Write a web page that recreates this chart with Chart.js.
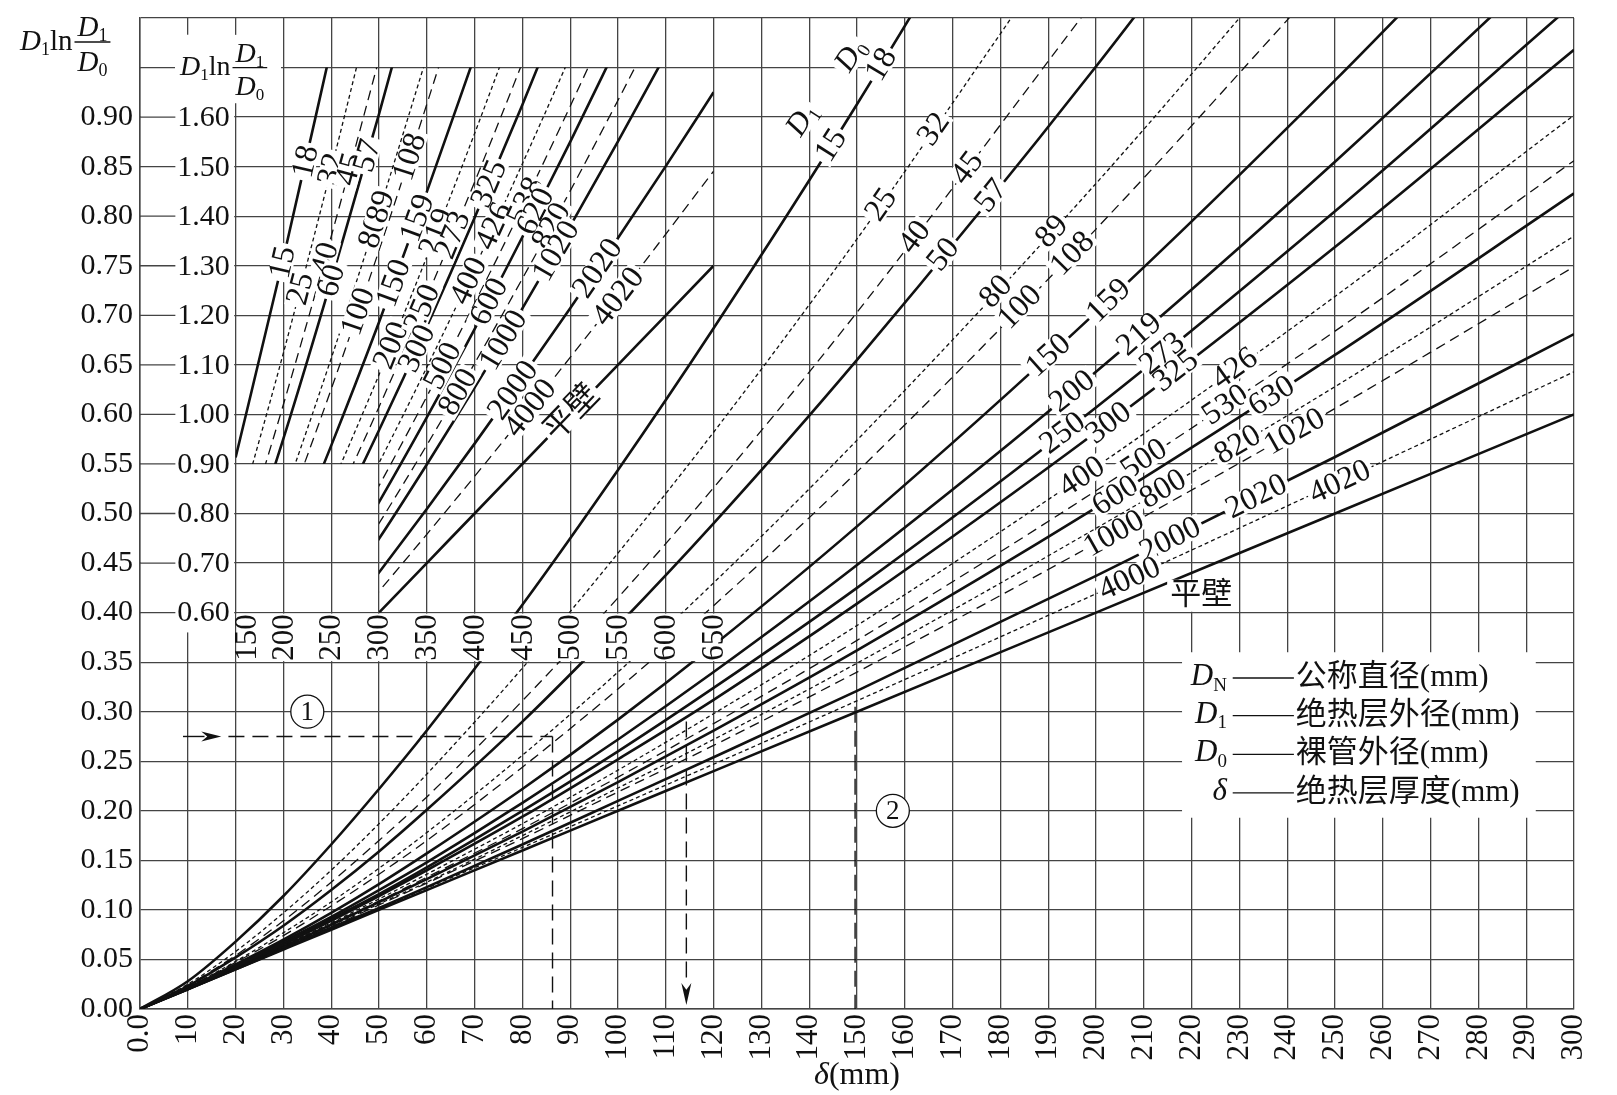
<!DOCTYPE html>
<html>
<head>
<meta charset="utf-8">
<script src="https://cdn.jsdelivr.net/npm/chart.js@4.4.1/dist/chart.umd.min.js"></script>
<style>
  html, body { margin: 0; padding: 0; background: #fff; }
  #wrap { position: relative; width: 1617px; height: 1095px; }
</style>
</head>
<body>
<div id="wrap"><canvas id="nomo"></canvas></div>
<script>
// insulation thickness δ (mm) where the main curves were read
const deltaMain = [0, 10, 20, 30, 40, 50, 60, 80, 100, 120, 150, 200, 250, 300];

// D1·ln(D1/D0), one array per bare pipe diameter D0
const y18 = [0, 0.028, 0.068, 0.114, 0.166, 0.222, 0.281, 0.408, 0.544, 0.687, 0.913, 1.315];
const y32 = [0, 0.025, 0.058, 0.097, 0.140, 0.187, 0.237, 0.344, 0.460, 0.582, 0.777, 1.124];
const y45 = [0, 0.024, 0.054, 0.089, 0.128, 0.170, 0.214, 0.311, 0.415, 0.526, 0.703, 1.020];
const y57 = [0, 0.023, 0.052, 0.084, 0.120, 0.159, 0.201, 0.290, 0.387, 0.490, 0.655, 0.951, 1.270];
const y89 = [0, 0.022, 0.048, 0.077, 0.108, 0.142, 0.178, 0.256, 0.340, 0.430, 0.574, 0.833, 1.113];
const y108 = [0, 0.022, 0.047, 0.074, 0.104, 0.136, 0.170, 0.244, 0.323, 0.407, 0.542, 0.787, 1.051];
const y159 = [0, 0.021, 0.045, 0.070, 0.097, 0.126, 0.157, 0.222, 0.292, 0.367, 0.487, 0.703, 0.937, 1.186];
const y219 = [0, 0.021, 0.043, 0.068, 0.093, 0.120, 0.148, 0.208, 0.272, 0.340, 0.448, 0.643, 0.855, 1.080];
const y273 = [0, 0.021, 0.043, 0.066, 0.091, 0.116, 0.143, 0.200, 0.260, 0.324, 0.425, 0.607, 0.805, 1.015];
const y325 = [0, 0.021, 0.042, 0.065, 0.089, 0.114, 0.140, 0.194, 0.252, 0.312, 0.409, 0.582, 0.769, 0.968];
const y426 = [0, 0.020, 0.042, 0.064, 0.087, 0.111, 0.136, 0.187, 0.241, 0.298, 0.387, 0.547, 0.719, 0.902];
const y530 = [0, 0.020, 0.042, 0.063, 0.086, 0.109, 0.133, 0.182, 0.234, 0.288, 0.372, 0.523, 0.684, 0.856];
const y630 = [0, 0.020, 0.041, 0.063, 0.085, 0.108, 0.131, 0.179, 0.229, 0.281, 0.362, 0.506, 0.660, 0.823];
const y820 = [0, 0.020, 0.041, 0.062, 0.084, 0.106, 0.128, 0.175, 0.223, 0.272, 0.349, 0.485, 0.628, 0.780];
const y1020 = [0, 0.020, 0.041, 0.062, 0.083, 0.105, 0.127, 0.172, 0.219, 0.266, 0.340, 0.470, 0.606, 0.749];
const y2020 = [0, 0.020, 0.040, 0.061, 0.082, 0.102, 0.123, 0.166, 0.210, 0.254, 0.321, 0.437, 0.557, 0.681];
const y4020 = [0, 0.020, 0.040, 0.060, 0.081, 0.101, 0.122, 0.163, 0.205, 0.247, 0.311, 0.419, 0.530, 0.643];
const yFlat = [0, 0.020, 0.040, 0.060, 0.080, 0.100, 0.120, 0.160, 0.200, 0.240, 0.300, 0.400, 0.500, 0.600];

// inset (δ = 150 ... 650 mm, D1·ln(D1/D0) = 0.6 ... 1.7)
const deltaInset = [150, 200, 250, 300, 350, 400, 450, 500, 550, 600, 650];
const i18 = [0.913, 1.315, 1.740];
const i32 = [0.777, 1.124, 1.495, 1.885];
const i45 = [0.703, 1.020, 1.359, 1.717];
const i57 = [0.655, 0.951, 1.270, 1.606, 1.958];
const i89 = [0.574, 0.833, 1.113, 1.410, 1.722];
const i108 = [0.542, 0.787, 1.051, 1.331, 1.626, 1.933];
const i159 = [0.487, 0.703, 0.937, 1.186, 1.449, 1.723];
const i219 = [0.448, 0.643, 0.855, 1.080, 1.318, 1.567, 1.825];
const i273 = [0.425, 0.607, 0.805, 1.015, 1.237, 1.469, 1.710, 1.960];
const i325 = [0.409, 0.582, 0.769, 0.968, 1.177, 1.397, 1.625, 1.862];
const i426 = [0.387, 0.547, 0.719, 0.902, 1.095, 1.296, 1.506, 1.723, 1.947];
const i530 = [0.372, 0.523, 0.684, 0.856, 1.036, 1.224, 1.419, 1.622, 1.831];
const i630 = [0.362, 0.506, 0.660, 0.823, 0.994, 1.172, 1.358, 1.550, 1.748];
const i820 = [0.349, 0.485, 0.628, 0.780, 0.938, 1.103, 1.274, 1.451, 1.634, 1.821];
const i1020 = [0.340, 0.470, 0.606, 0.749, 0.899, 1.054, 1.214, 1.380, 1.551, 1.727];
const i2020 = [0.321, 0.437, 0.557, 0.681, 0.809, 0.941, 1.076, 1.214, 1.356, 1.501, 1.650];
const i4020 = [0.311, 0.419, 0.530, 0.643, 0.758, 0.875, 0.994, 1.115, 1.238, 1.364, 1.491];
const iFlat = [0.300, 0.400, 0.500, 0.600, 0.700, 0.800, 0.900, 1.000, 1.100, 1.200, 1.300];

// curve names (DN — D0)
const mainDnNames = ["15", "25", "40", "50", "80", "100", "150", "200", "250", "300", "400", "500", "600", "800", "1000", "2000", "4000"];
const mainD0Names = ["18", "32", "45", "57", "89", "108", "159", "219", "273", "325", "426", "530", "630", "820", "1020", "2020", "4020"];
const insetDnNames = ["15", "25", "40", "60", "80", "100", "150", "200", "250", "300", "400", "500", "600", "800", "1000", "2000", "4000"];
const insetD0Names = ["18", "32", "45", "57", "89", "108", "159", "219", "273", "325", "426", "538", "620", "820", "1020", "2020", "4020"];

// tick labels of the inset scales
const insetXTicks = [150, 200, 250, 300, 350, 400, 450, 500, 550, 600, 650];
const insetYTicks = [0.6, 0.7, 0.8, 0.9, 1.0, 1.1, 1.2, 1.3, 1.4, 1.5, 1.6];

const legendSymbols = [[["D", "i"], ["N", "sr"]], [["D", "i"], ["1", "sr"]], [["D", "i"], ["0", "sr"]], [["δ", "i"]]];
const legendTexts = ["公称直径(mm)", "绝热层外径(mm)", "裸管外径(mm)", "绝热层厚度(mm)"];

const mainSeries = [y18, y32, y45, y57, y89, y108, y159, y219, y273, y325, y426, y530, y630, y820, y1020, y2020, y4020, yFlat];
const insetSeries = [i18, i32, i45, i57, i89, i108, i159, i219, i273, i325, i426, i530, i630, i820, i1020, i2020, i4020, iFlat];

// line styles: s = solid, f = fine dash, l = long dash
const mainStyle = ["s", "f", "l", "s", "f", "l", "s", "s", "s", "s", "f", "l", "s", "f", "l", "s", "f", "s"];
const insetStyle = ["s", "f", "l", "s", "f", "l", "s", "f", "l", "s", "f", "l", "s", "l", "s", "s", "l", "s"];
const DASH = { s: [], f: [4, 3], l: [10, 6] };
const WIDTH = { s: 2.6, f: 1.3, l: 1.3 };

// where the curve labels sit (δ along each curve)
const mainDnAt = [144.5, 155, 162, 168, 179, 184, 190, 195, 193, 202.6, 197, 210, 204, 214, 203.7, 215.5, 207];
const mainD0At = [155, 166, 173, 178, 190.7, 195, 202.6, 209, 213.8, 216.6, 229, 227, 236.7, 229.6, 241.5, 233.5, 251];
const insetDnAt = [199, 217.5, 243.5, 250, 293, 278, 315, 312.5, 345, 339.5, 393.5, 366.5, 415, 382.5, 430, 440, 458];
const insetD0At = [223, 250, 269, 287.5, 301.5, 332, 340, 360, 377, 415, 420, 453, 463.5, 480, 485, 528.5, 550];

const SERIF = '"Liberation Serif", "Noto Sans CJK SC", serif';
const INK = "#111";
const GRID = "#444";
const LABEL_SIZE = 32;

function partFont(kind, size) {
  const s = kind[0] === "s" ? Math.round(size * 0.62) : size;
  const it = kind[kind.length - 1] === "i" ? "italic " : "";
  return it + s + "px " + SERIF;
}

function richWidth(ctx, parts, size) {
  return parts.reduce((w, p) => {
    ctx.font = partFont(p[1], size);
    return w + ctx.measureText(p[0]).width;
  }, 0);
}

function drawRich(ctx, parts, x, y, size) {
  ctx.textAlign = "left";
  ctx.textBaseline = "middle";
  parts.forEach((p) => {
    ctx.font = partFont(p[1], size);
    ctx.fillText(p[0], x, p[1][0] === "s" ? y + size * 0.28 : y);
    x += ctx.measureText(p[0]).width;
  });
  return x;
}

function drawFracTitle(ctx, x, yBar, size) {
  let cx = drawRich(ctx, [["D", "i"], ["1", "sr"], ["ln", "r"]], x, yBar, size) + 2;
  const num = [["D", "i"], ["1", "sr"]];
  const den = [["D", "i"], ["0", "sr"]];
  const wn = richWidth(ctx, num, size), wd = richWidth(ctx, den, size);
  const w = Math.max(wn, wd) + 6;
  drawRich(ctx, num, cx + (w - wn) / 2, yBar - size * 0.47, size);
  drawRich(ctx, den, cx + (w - wd) / 2, yBar + size * 0.72, size);
  ctx.beginPath();
  ctx.moveTo(cx, yBar);
  ctx.lineTo(cx + w, yBar);
  ctx.lineWidth = 1.3;
  ctx.strokeStyle = INK;
  ctx.stroke();
}

function interp(xs, ys, x) {
  for (let i = 1; i < ys.length; i++) {
    if (x <= xs[i]) {
      const t = (x - xs[i - 1]) / (xs[i] - xs[i - 1]);
      return ys[i - 1] + t * (ys[i] - ys[i - 1]);
    }
  }
  return ys[ys.length - 1];
}

// text sitting on a curve, turned along it, on a white patch
function curveLabel(ctx, parts, xs, ys, xv, sx, sy, step, size) {
  const p = sx.getPixelForValue(xv), q = sy.getPixelForValue(interp(xs, ys, xv));
  const p2 = sx.getPixelForValue(xv + step), q2 = sy.getPixelForValue(interp(xs, ys, xv + step));
  const ang = Math.atan2(q2 - q, p2 - p);
  const w = richWidth(ctx, parts, size);
  ctx.save();
  ctx.translate(p, q);
  ctx.rotate(ang);
  ctx.fillStyle = "#fff";
  ctx.fillRect(-w / 2 - 3, -size * 0.36, w + 6, size * 0.72);
  ctx.fillStyle = INK;
  drawRich(ctx, parts, -w / 2, 1, size);
  ctx.restore();
}

function arrowHead(ctx, x, y, dx, dy, len, half) {
  ctx.beginPath();
  ctx.moveTo(x, y);
  ctx.lineTo(x - dx * len - dy * half, y - dy * len + dx * half);
  ctx.lineTo(x - dx * len * 0.7, y - dy * len * 0.7);
  ctx.lineTo(x - dx * len + dy * half, y - dy * len - dx * half);
  ctx.closePath();
  ctx.fill();
}

const nomoPlugin = {
  id: "nomo",
  beforeDatasetDraw(chart, args) {
    const ds = chart.data.datasets[args.index];
    if (!ds.inset) return;
    const ctx = chart.ctx, X = chart.scales.x, Y = chart.scales.y;
    const corners = [[20, 0.55], [50, 0.55], [50, 0.40], [120, 0.40], [120, 0.95], [20, 0.95]];
    ctx.save();
    ctx.beginPath();
    corners.forEach((c, i) => {
      const a = X.getPixelForValue(c[0]), b = Y.getPixelForValue(c[1]);
      if (i) ctx.lineTo(a, b);
      else ctx.moveTo(a, b);
    });
    ctx.closePath();
    ctx.clip();
  },
  afterDatasetDraw(chart, args) {
    if (chart.data.datasets[args.index].inset) chart.ctx.restore();
  },
  afterDatasetsDraw(chart) {
    const ctx = chart.ctx;
    const X = chart.scales.x, Y = chart.scales.y, X2 = chart.scales.x2, Y2 = chart.scales.y2;
    const px = (v) => X.getPixelForValue(v), py = (v) => Y.getPixelForValue(v);
    ctx.save();

    // inset y scale and its title
    ctx.fillStyle = "#fff";
    ctx.fillRect(px(0) + 1, py(0.983), px(19.7) - px(0) - 1, py(0.38) - py(0.983));
    ctx.fillRect(px(0) + 1, py(0.983), px(29.5) - px(0) - 1, py(0.914) - py(0.983));
    ctx.strokeStyle = GRID;
    ctx.lineWidth = 1.3;
    ctx.font = "30px " + SERIF;
    ctx.fillStyle = INK;
    ctx.textAlign = "right";
    ctx.textBaseline = "middle";
    insetYTicks.forEach((v) => {
      const yy = Y2.getPixelForValue(v), label = v.toFixed(2);
      const w = ctx.measureText(label).width, right = px(18.8);
      ctx.beginPath();
      ctx.moveTo(px(0), yy);
      ctx.lineTo(right - w - 2, yy);
      ctx.stroke();
      ctx.fillText(label, right, yy + 1);
    });
    ctx.beginPath();
    ctx.moveTo(px(0), py(0.95));
    ctx.lineTo(px(0) + 35, py(0.95));
    ctx.stroke();
    ctx.fillStyle = INK;
    drawFracTitle(ctx, px(0) + 40, py(0.95), 28);

    // inset x scale in a white band
    ctx.fillStyle = "#fff";
    ctx.fillRect(px(20) + 1, py(0.40) + 1, px(121.5) - px(20) - 1, py(0.35) - py(0.40) - 2);
    ctx.fillStyle = INK;
    ctx.font = "31px " + SERIF;
    insetXTicks.forEach((v) => {
      let xx = X2.getPixelForValue(v);
      if (v === 150) xx += 11;
      ctx.save();
      ctx.translate(xx, py(0.375));
      ctx.rotate(-Math.PI / 2);
      ctx.textAlign = "center";
      ctx.textBaseline = "middle";
      ctx.fillText(String(v), 0, 1);
      ctx.restore();
    });

    // legend box
    ctx.fillStyle = "#fff";
    ctx.fillRect(px(218), py(0.36), px(292) - px(218), py(0.193) - py(0.36));
    const rowY = [0.335, 0.297, 0.258, 0.219];
    legendSymbols.forEach((sym, i) => {
      const yy = py(rowY[i]);
      ctx.fillStyle = INK;
      drawRich(ctx, sym, px(227.4) - richWidth(ctx, sym, 31), yy, 31);
      ctx.beginPath();
      ctx.moveTo(px(228.6), yy + 1);
      ctx.lineTo(px(241.4), yy + 1);
      ctx.lineWidth = 1.3;
      ctx.strokeStyle = INK;
      ctx.stroke();
      ctx.font = "31px " + SERIF;
      ctx.textAlign = "left";
      ctx.fillText(legendTexts[i], px(241.8), yy + 1);
    });

    // curve labels, main chart
    for (let k = 0; k < 17; k++) {
      curveLabel(ctx, [[mainDnNames[k], "r"]], deltaMain, mainSeries[k], mainDnAt[k], X, Y, 2, LABEL_SIZE);
      curveLabel(ctx, [[mainD0Names[k], "r"]], deltaMain, mainSeries[k], mainD0At[k], X, Y, 2, LABEL_SIZE);
    }
    // curve labels, inset
    for (let k = 0; k < 17; k++) {
      curveLabel(ctx, [[insetDnNames[k], "r"]], deltaInset, insetSeries[k], insetDnAt[k], X2, Y2, 10, LABEL_SIZE);
      curveLabel(ctx, [[insetD0Names[k], "r"]], deltaInset, insetSeries[k], insetD0At[k], X2, Y2, 10, LABEL_SIZE);
    }
    curveLabel(ctx, [["平壁", "r"]], deltaInset, iFlat, 501.5, X2, Y2, 10, LABEL_SIZE);

    // column headers D1 / D0 beside the first curve
    const headAng = Math.atan2(py(0.913) - py(0.687), px(150) - px(120));
    [[[["D", "i"], ["1", "sr"]], 138.6, 0.897], [[["D", "i"], ["0", "sr"]], 148.8, 0.962]].forEach((h) => {
      const w = richWidth(ctx, h[0], 31);
      ctx.save();
      ctx.translate(px(h[1]), py(h[2]));
      ctx.rotate(headAng);
      ctx.fillStyle = "#fff";
      ctx.fillRect(-w / 2 - 3, -12, w + 6, 24);
      ctx.fillStyle = INK;
      drawRich(ctx, h[0], -w / 2, 0, 31);
      ctx.restore();
    });

    // flat wall label in the main chart
    ctx.font = "31px " + SERIF;
    const fw = ctx.measureText("平壁").width;
    ctx.fillStyle = "#fff";
    ctx.fillRect(px(222) - fw / 2 - 3, py(0.417) - 16, fw + 6, 32);
    ctx.fillStyle = INK;
    ctx.textAlign = "center";
    ctx.textBaseline = "middle";
    ctx.fillText("平壁", px(222), py(0.417));

    // worked example: dashed guide lines and arrows
    ctx.strokeStyle = INK;
    ctx.fillStyle = INK;
    ctx.lineWidth = 1.4;
    ctx.beginPath();
    ctx.moveTo(px(9), py(0.275));
    ctx.lineTo(px(13.5), py(0.275));
    ctx.stroke();
    arrowHead(ctx, px(17), py(0.275), 1, 0, 20, 5);
    ctx.setLineDash([16, 8]);
    ctx.beginPath();
    ctx.moveTo(px(18.5), py(0.275));
    ctx.lineTo(px(86.3), py(0.275));
    ctx.moveTo(px(86.3), py(0.275));
    ctx.lineTo(px(86.3), py(0));
    ctx.moveTo(px(114.3), py(0.29));
    ctx.lineTo(px(114.3), py(0.03));
    ctx.moveTo(px(149.6), py(0.305));
    ctx.lineTo(px(149.6), py(0));
    ctx.stroke();
    ctx.setLineDash([]);
    arrowHead(ctx, px(114.3), py(0.004), 0, 1, 22, 5);

    // circled step numbers
    [["1", 35, 0.30], ["2", 157.5, 0.20]].forEach((c) => {
      const cx = px(c[1]), cy = py(c[2]);
      ctx.beginPath();
      ctx.arc(cx, cy, 16.5, 0, Math.PI * 2);
      ctx.fillStyle = "#fff";
      ctx.fill();
      ctx.lineWidth = 1.3;
      ctx.strokeStyle = INK;
      ctx.stroke();
      ctx.fillStyle = INK;
      ctx.font = "27px " + SERIF;
      ctx.textAlign = "center";
      ctx.textBaseline = "middle";
      ctx.fillText(c[0], cx, cy + 1);
    });

    // outer axis title and x title
    ctx.fillStyle = INK;
    drawFracTitle(ctx, 20, 42, 29);
    const xt = [["δ", "i"], ["(mm)", "r"]];
    drawRich(ctx, xt, 857 - richWidth(ctx, xt, 32) / 2, 1076, 32);
    ctx.restore();
  },
};

const datasets = [];
mainSeries.forEach((ys, k) => {
  const st = mainStyle[k];
  datasets.push({
    data: ys.map((v, i) => ({ x: deltaMain[i], y: v })),
    borderColor: INK,
    borderWidth: WIDTH[st],
    borderDash: DASH[st],
    pointRadius: 0,
    fill: false,
    cubicInterpolationMode: "monotone",
    xAxisID: "x",
    yAxisID: "y",
  });
});
insetSeries.forEach((ys, k) => {
  const st = insetStyle[k];
  datasets.push({
    data: ys.map((v, i) => ({ x: deltaInset[i], y: v })),
    borderColor: INK,
    borderWidth: WIDTH[st],
    borderDash: DASH[st],
    pointRadius: 0,
    fill: false,
    cubicInterpolationMode: "monotone",
    xAxisID: "x2",
    yAxisID: "y2",
    inset: true,
  });
});

new Chart(document.getElementById("nomo"), {
  type: "line",
  data: { datasets: datasets },
  options: {
    responsive: true,
    maintainAspectRatio: false,
    animation: false,
    events: [],
    layout: { padding: { top: 18, right: 43, left: 0, bottom: 0 } },
    plugins: {
      legend: { display: false },
      tooltip: { enabled: false },
    },
    scales: {
      x: {
        type: "linear",
        min: 0,
        max: 300,
        ticks: {
          stepSize: 10,
          autoSkip: false,
          minRotation: 90,
          maxRotation: 90,
          padding: 5,
          color: INK,
          font: { family: SERIF, size: 31 },
          callback: (v) => (v === 0 ? "0.0" : String(v)),
        },
        grid: { color: GRID, lineWidth: 1.3, drawTicks: false },
        border: { color: GRID, width: 1.5 },
        afterFit: (s) => {
          s.height = 86;
          s.paddingLeft = 0;
          s.paddingRight = 0;
        },
      },
      y: {
        type: "linear",
        min: 0,
        max: 1,
        ticks: {
          stepSize: 0.05,
          padding: 7,
          color: INK,
          font: { family: SERIF, size: 30 },
          callback: (v) => (v < 0.93 ? v.toFixed(2) : ""),
        },
        grid: { color: GRID, lineWidth: 1.3, drawTicks: false },
        border: { color: GRID, width: 1.5 },
        afterFit: (s) => {
          s.width = 140;
          s.paddingTop = 0;
          s.paddingBottom = 0;
        },
      },
      x2: { type: "linear", display: false, min: 50, max: 1550 },
      y2: { type: "linear", display: false, min: -0.2, max: 1.8 },
    },
  },
  plugins: [nomoPlugin],
});
</script>
</body>
</html>
